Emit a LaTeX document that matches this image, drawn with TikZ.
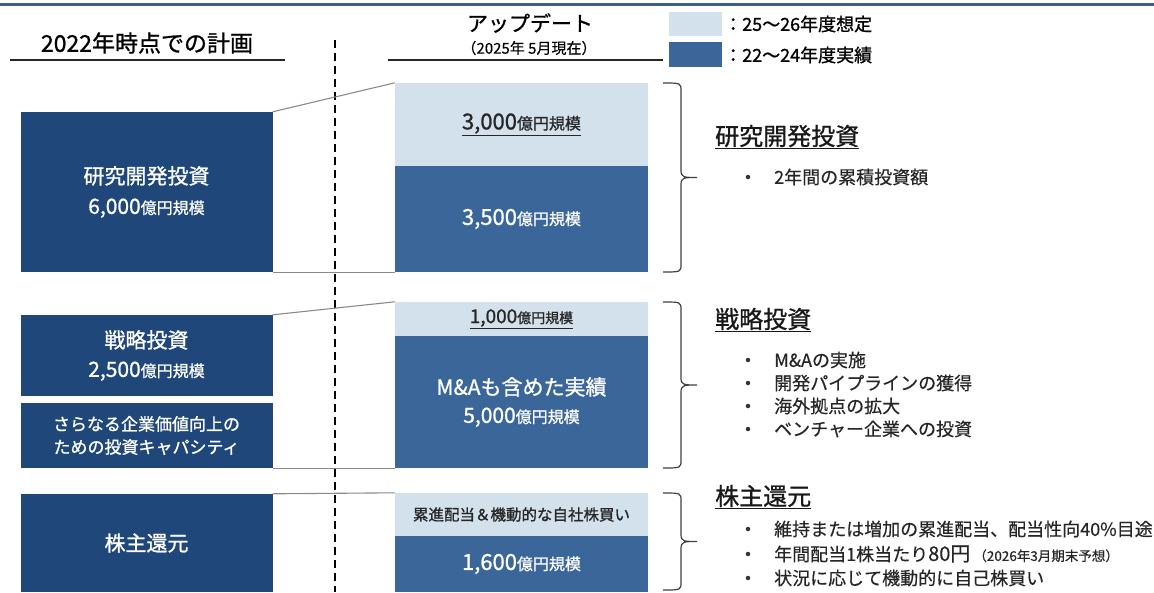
\documentclass[tikz,border=0pt]{standalone}
\usepackage{fontspec}
\setmainfont{Noto Sans CJK JP}[FakeBold=0.4]
\newfontfamily\medf{Noto Sans CJK JP}[FakeBold=1.0]
\definecolor{navyL}{HTML}{1F477A}
\definecolor{blueR}{HTML}{3B6699}
\definecolor{lightR}{HTML}{D2E1EB}
\definecolor{topln}{HTML}{3E5F85}
\definecolor{connc}{HTML}{8A8A8A}
\definecolor{brk}{HTML}{404040}
\newcommand\fs[2]{\fontsize{#1}{#2}\selectfont}
\newcommand\mybrk[2]{%
  \pgfmathsetmacro\bm{(#1+#2)/2}%
  \draw[brkstyle] (663,#1) .. controls (681,#1) and (681,#1) .. (681,#1+8)
    -- (681,\bm-7) .. controls (681,\bm) and (684,\bm) .. (697,\bm)
    .. controls (684,\bm) and (681,\bm) .. (681,\bm+7)
    -- (681,#2-8) .. controls (681,#2) and (681,#2) .. (663,#2);}
\begin{document}
\begin{tikzpicture}[x=1pt,y=-1pt,
  lbox/.style={fill=navyL,text=white,minimum width=252pt,inner sep=0pt,align=center},
  rlight/.style={fill=lightR,text=black!85,minimum width=253pt,inner sep=0pt,align=center},
  rdark/.style={fill=blueR,text=white,minimum width=253pt,inner sep=0pt,align=center},
  conn/.style={draw=connc,line width=1.1pt},
  brkstyle/.style={draw=brk,line width=1.2pt},
  head/.style={anchor=west,inner sep=0pt,text=black!90,font=\medf\fs{24}{28}},
  bul/.style={circle,fill=black!80,inner sep=0pt,minimum size=4.5pt},
  btxt/.style={anchor=west,inner sep=0pt,text=black!85,font=\fs{18}{22}},
  uline/.style={draw=black!85,line width=1.2pt}]
\useasboundingbox (0,0) rectangle (1154,592);
\fill[white] (0,0) rectangle (1154,592);
% top rule
\draw[topln,line width=2.2pt] (0,4.5) -- (1154,4.5);
% headers
\node[inner sep=0pt,font=\medf\fs{23}{26}] (hdl) at (147,43) {2022年時点での計画};
\coordinate (ul1a) at (10,60); \coordinate (ul1b) at (285,60);
\draw[uline] (ul1a) -- (ul1b);
\node[inner sep=0pt,font=\medf\fs{21}{24}] (hdr) at (530,23) {アップデート};
\node[inner sep=0pt,font=\fs{15}{16}] (hdr2) at (529,48) {（2025年 5月現在）};
\coordinate (ul2a) at (388,60); \coordinate (ul2b) at (663,60);
\draw[uline] (ul2a) -- (ul2b);
% dashed divider
\coordinate (dv1) at (335,40); \coordinate (dv2) at (335,592);
\draw[black,line width=1.8pt,dash pattern=on 8pt off 5pt] (dv1) -- (dv2);
% legend
\node[fill=lightR,minimum width=53pt,minimum height=24pt,inner sep=0pt] (lg1) at (695.5,24) {};
\node[fill=blueR,minimum width=53pt,minimum height=25pt,inner sep=0pt] (lg2) at (695.5,54.5) {};
\node[anchor=west,inner sep=0pt,font=\medf\fs{18}{20}] (lt1) at (724,24) {：25〜26年度想定};
\node[anchor=west,inner sep=0pt,font=\medf\fs{18}{20}] (lt2) at (724,55) {：22〜24年度実績};
% left boxes
\node[lbox,minimum height=160pt,font=\medf\fs{21}{30}] (rdL) at (146.5,192) {研究開発投資\\6,000{\fs{16}{30}億円規模}};
\node[lbox,minimum height=81pt,font=\medf\fs{21}{29}] (stL) at (146.5,355.5) {戦略投資\\2,500{\fs{16}{29}億円規模}};
\node[lbox,minimum height=65pt,font=\medf\fs{17}{23}] (caL) at (146.5,435.5) {さらなる企業価値向上の\\ための投資キャパシティ};
\node[lbox,minimum height=98pt,font=\medf\fs{21}{26}] (shL) at (146.5,543) {株主還元};
% right boxes
\node[rlight,minimum height=83pt,font=\medf\fs{22}{26}] (rdA) at (521.5,124.5) {\underline{3,000{\fs{16}{26}億円規模}}};
\node[rdark,minimum height=106pt,font=\medf\fs{22}{26}] (rdB) at (521.5,219) {3,500{\fs{16}{26}億円規模}};
\node[rlight,minimum height=34pt,font=\medf\fs{19}{22}] (stA) at (521.5,319) {\underline{1,000{\fs{14}{22}億円規模}}};
\node[rdark,minimum height=132pt,font=\medf\fs{21}{28}] (stB) at (521.5,402) {M\&Aも含めた実績\\5,000{\fs{16}{28}億円規模}};
\node[rlight,minimum height=43pt,font=\medf\fs{15.5}{20}] (shA) at (521.5,514.5) {累進配当＆機動的な自社株買い};
\node[rdark,minimum height=56pt,font=\medf\fs{22}{26}] (shB) at (521.5,564) {1,600{\fs{16}{26}億円規模}};
% connectors
\draw[conn] (rdL.north east) -- (rdA.north west);
\draw[conn] (rdL.south east) -- (rdB.south west);
\draw[conn] (stL.north east) -- (stA.north west);
\draw[conn] (caL.south east) -- (stB.south west);
\draw[conn] (shL.north east) -- (shA.north west);
% brackets
\mybrk{83}{272}
\mybrk{302}{468}
\mybrk{493}{590}
% right texts
\node[head] (t1) at (715,137) {\underline{研究開発投資}};
\node[bul] (b11) at (748,177) {};
\node[btxt] (x11) at (774,177) {2年間の累積投資額};
\node[head] (t2) at (715,320) {\underline{戦略投資}};
\node[bul] (b21) at (748,360) {};
\node[btxt] (x21) at (774,360) {M\&Aの実施};
\node[bul] (b22) at (748,383) {};
\node[btxt] (x22) at (774,383) {開発パイプラインの獲得};
\node[bul] (b23) at (748,406) {};
\node[btxt] (x23) at (774,406) {海外拠点の拡大};
\node[bul] (b24) at (748,429) {};
\node[btxt] (x24) at (774,429) {ベンチャー企業への投資};
\node[head] (t3) at (715,497) {\underline{株主還元}};
\node[bul] (b31) at (748,529) {};
\node[btxt] (x31) at (774,529) {維持または増加の累進配当、配当性向40\%目途};
\node[bul] (b32) at (748,554) {};
\node[btxt] (x32) at (774,554) {年間配当1株当たり{\fs{20}{22}80円}\,{\fs{13.5}{16}（2026年3月期末予想）}};
\node[bul] (b33) at (748,578) {};
\node[btxt] (x33) at (774,578) {状況に応じて機動的に自己株買い};
\end{tikzpicture}
\end{document}
